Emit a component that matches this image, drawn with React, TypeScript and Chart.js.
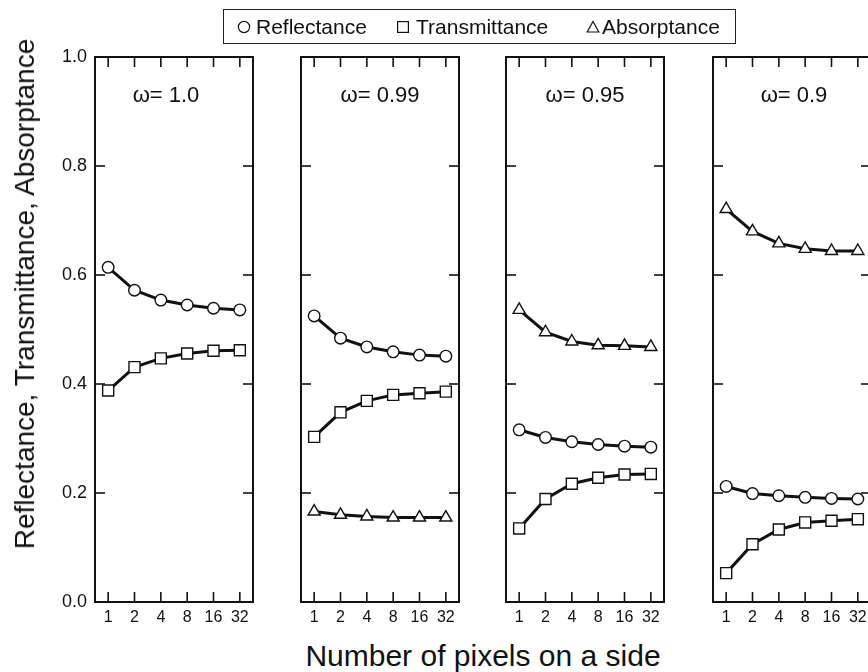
import React, { useEffect, useRef } from "react";
import { Chart, registerables } from "chart.js";

Chart.register(...registerables);

// ---------- data ----------
const pixelLabels = ["1", "2", "4", "8", "16", "32"];
const omegaLabels = ["ω= 1.0", "ω= 0.99", "ω= 0.95", "ω= 0.9"];
const yTickValues = [0, 0.2, 0.4, 0.6, 0.8, 1.0];

const reflectance100 = [0.614, 0.572, 0.554, 0.545, 0.539, 0.536];
const transmittance100 = [0.388, 0.431, 0.447, 0.456, 0.461, 0.462];

const reflectance099 = [0.525, 0.484, 0.468, 0.459, 0.453, 0.451];
const transmittance099 = [0.303, 0.348, 0.369, 0.38, 0.383, 0.386];
const absorptance099 = [0.166, 0.16, 0.157, 0.155, 0.155, 0.155];

const reflectance095 = [0.316, 0.302, 0.294, 0.289, 0.286, 0.284];
const transmittance095 = [0.135, 0.189, 0.217, 0.228, 0.234, 0.235];
const absorptance095 = [0.536, 0.495, 0.478, 0.471, 0.47, 0.468];

const reflectance090 = [0.212, 0.199, 0.195, 0.192, 0.19, 0.189];
const transmittance090 = [0.053, 0.106, 0.133, 0.146, 0.149, 0.152];
const absorptance090 = [0.721, 0.68, 0.658, 0.648, 0.644, 0.644];

const seriesNames = ["Reflectance", "Transmittance", "Absorptance"];

// ---------- layout ----------
const FONT = "'Liberation Sans', Arial, Helvetica, sans-serif";
const TOP_PAD = 22;
const AREA_TOP = 57;
const CANVAS_TOP = AREA_TOP - TOP_PAD;
const AREA_BOTTOM = 602;
const X_AXIS_H = 30;
const RIGHT_PAD = 10;
const PANEL_W = 158;

const panels = [
  { left: 95, yAxisW: 60, showY: true, labelDx: -8, label: omegaLabels[0], R: reflectance100, T: transmittance100, A: null },
  { left: 301, yAxisW: 10, showY: false, labelDx: 0, label: omegaLabels[1], R: reflectance099, T: transmittance099, A: absorptance099 },
  { left: 506, yAxisW: 10, showY: false, labelDx: 0, label: omegaLabels[2], R: reflectance095, T: transmittance095, A: absorptance095 },
  { left: 713, yAxisW: 10, showY: false, labelDx: 2, label: omegaLabels[3], R: reflectance090, T: transmittance090, A: absorptance090 },
];

const framePlugin = {
  id: "panelFrame",
  beforeDatasetsDraw(chart: any, _args: any, opts: any) {
    const { ctx, chartArea, scales } = chart;
    const { left, right, top, bottom } = chartArea;
    const x = scales.x;
    const y = scales.y;
    const tl = 10;
    ctx.save();
    ctx.strokeStyle = "#111";
    ctx.lineWidth = 2;
    ctx.strokeRect(left, top, right - left, bottom - top);
    ctx.lineWidth = 1.6;
    const seg = (x1: number, y1: number, x2: number, y2: number) => {
      ctx.beginPath();
      ctx.moveTo(x1, y1);
      ctx.lineTo(x2, y2);
      ctx.stroke();
    };
    x.ticks.forEach((_t: any, i: number) => {
      const px = x.getPixelForTick(i);
      seg(px, bottom, px, bottom - tl);
      seg(px, top, px, top + tl);
    });
    y.ticks.forEach((t: any) => {
      if (t.value <= 0.0001 || t.value >= 0.9999) return;
      const py = y.getPixelForValue(t.value);
      seg(left, py, left + tl, py);
      seg(right, py, right - tl, py);
    });
    ctx.fillStyle = "#111";
    ctx.font = `22px ${FONT}`;
    ctx.textAlign = "center";
    ctx.textBaseline = "middle";
    ctx.fillText(opts.label, (left + right) / 2 + (opts.dx || 0), top + 39);
    ctx.restore();
  },
};

function makeDataset(name: string, values: number[], style: string, radius: number) {
  return {
    label: name,
    data: values,
    borderColor: "#111",
    borderWidth: 3,
    pointStyle: style,
    pointRadius: radius,
    pointBorderWidth: 1.4,
    pointBorderColor: "#111",
    pointBackgroundColor: "#fff",
    fill: false,
    tension: 0,
  };
}

function Panel({ p }: { p: any }) {
  const ref = useRef<HTMLCanvasElement | null>(null);
  useEffect(() => {
    if (!ref.current) return;
    const datasets: any[] = [];
    datasets.push(makeDataset(seriesNames[0], p.R, "circle", 5.8));
    datasets.push(makeDataset(seriesNames[1], p.T, "rect", 7.8));
    if (p.A) datasets.push(makeDataset(seriesNames[2], p.A, "triangle", 7));
    const chart = new Chart(ref.current, {
      type: "line",
      data: { labels: pixelLabels, datasets },
      plugins: [framePlugin as any],
      options: {
        animation: false,
        responsive: false,
        maintainAspectRatio: false,
        layout: { padding: { top: TOP_PAD, right: RIGHT_PAD, bottom: 0, left: 0 } },
        plugins: {
          legend: { display: false },
          tooltip: { enabled: false },
          panelFrame: { label: p.label, dx: p.labelDx },
        } as any,
        scales: {
          x: {
            type: "category",
            offset: true,
            grid: { display: false, drawTicks: false },
            border: { display: false },
            ticks: { color: "#111", font: { family: FONT, size: 16 }, padding: 6, maxRotation: 0, autoSkip: false },
            afterFit: (s: any) => { s.height = X_AXIS_H; },
          },
          y: {
            type: "linear",
            min: 0,
            max: 1,
            grid: { display: false, drawTicks: false },
            border: { display: false },
            afterBuildTicks: (s: any) => { s.ticks = yTickValues.map((v) => ({ value: v })); },
            ticks: {
              display: p.showY,
              color: "#111",
              font: { family: FONT, size: 18 },
              padding: 8,
              callback: (v: any) => Number(v).toFixed(1),
            },
            afterFit: (s: any) => { s.width = p.yAxisW; },
          },
        },
      } as any,
    });
    return () => chart.destroy();
  }, []);
  const width = p.yAxisW + PANEL_W + RIGHT_PAD;
  const height = AREA_BOTTOM - CANVAS_TOP + X_AXIS_H;
  return (
    <canvas
      ref={ref}
      width={width}
      height={height}
      style={{ position: "absolute", left: p.left - p.yAxisW, top: CANVAS_TOP, width, height, display: "block" }}
    />
  );
}

const legendTextStyle: React.CSSProperties = {
  position: "absolute",
  top: 0,
  height: 33,
  lineHeight: "33px",
  fontFamily: FONT,
  fontSize: 21,
  whiteSpace: "nowrap",
};

const markerBox: React.CSSProperties = { position: "absolute", top: 10, width: 14, height: 14, overflow: "visible" };

export default function App() {
  return (
    <div
      style={{
        position: "absolute",
        left: 0,
        top: 0,
        width: 868,
        height: 672,
        overflow: "hidden",
        background: "#fff",
        color: "#111",
      }}
    >
      {panels.map((p, i) => (
        <Panel key={i} p={p} />
      ))}
      <div
        style={{
          position: "absolute",
          left: 223,
          top: 9,
          width: 513,
          height: 35,
          boxSizing: "border-box",
          border: "1.5px solid #222",
        }}
      >
        <svg style={{ ...markerBox, left: 13 }} viewBox="0 0 14 14">
          <circle cx="7" cy="7" r="5.6" fill="#fff" stroke="#111" strokeWidth="1.2" />
        </svg>
        <span style={{ ...legendTextStyle, left: 32 }}>{seriesNames[0]}</span>
        <svg style={{ ...markerBox, left: 172 }} viewBox="0 0 14 14">
          <rect x="1.6" y="1.6" width="10.8" height="10.8" fill="#fff" stroke="#111" strokeWidth="1.2" />
        </svg>
        <span style={{ ...legendTextStyle, left: 192 }}>{seriesNames[1]}</span>
        <svg style={{ ...markerBox, left: 362 }} viewBox="0 0 14 14">
          <polygon points="7,1.5 12.8,12 1.2,12" fill="#fff" stroke="#111" strokeWidth="1.2" />
        </svg>
        <span style={{ ...legendTextStyle, left: 378 }}>{seriesNames[2]}</span>
      </div>
      <div
        style={{
          position: "absolute",
          left: 25,
          top: 294,
          transform: "translate(-50%, -50%) rotate(-90deg)",
          fontFamily: FONT,
          fontSize: 28,
          whiteSpace: "nowrap",
          lineHeight: 1,
        }}
      >
        Reflectance, Transmittance, Absorptance
      </div>
      <div
        style={{
          position: "absolute",
          left: 483,
          top: 656,
          transform: "translate(-50%, -50%)",
          fontFamily: FONT,
          fontSize: 30,
          whiteSpace: "nowrap",
          lineHeight: 1,
        }}
      >
        Number of pixels on a side
      </div>
    </div>
  );
}
